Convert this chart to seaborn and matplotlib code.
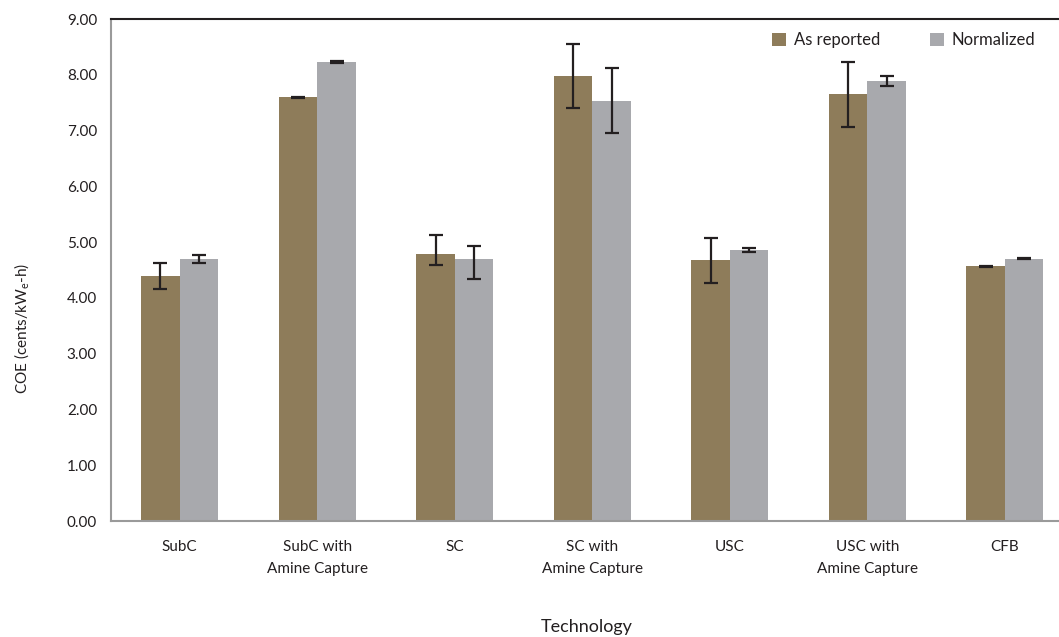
import matplotlib
matplotlib.use("Agg")
import matplotlib.pyplot as plt
import pandas as pd
import seaborn as sns

# Data
technologies = ["SubC", "SubC with\nAmine Capture", "SC", "SC with\nAmine Capture",
                "USC", "USC with\nAmine Capture", "CFB"]
as_reported = [4.39, 7.60, 4.79, 7.98, 4.68, 7.66, 4.57]
as_reported_lo = [4.16, 7.59, 4.59, 7.40, 4.27, 7.06, 4.56]
as_reported_hi = [4.63, 7.61, 5.13, 8.55, 5.07, 8.23, 4.58]
normalized = [4.70, 8.23, 4.70, 7.53, 4.86, 7.89, 4.70]
normalized_lo = [4.62, 8.22, 4.34, 6.95, 4.83, 7.80, 4.69]
normalized_hi = [4.77, 8.24, 4.93, 8.13, 4.89, 7.98, 4.71]
series = ["As reported", "Normalized"]
colors = ["#8e7c5a", "#a8a9ad"]

sns.set_style("white")
plt.rcParams['font.family'] = ['Lato', 'DejaVu Sans']

df = pd.DataFrame({
    "Technology": technologies * 2,
    "COE": as_reported + normalized,
    "Series": [series[0]] * len(technologies) + [series[1]] * len(technologies),
})

fig = plt.figure(figsize=(10.59, 6.37), dpi=100)
ax = fig.add_axes([0.1048, 0.1821, 0.909, 0.788])

sns.barplot(data=df, x="Technology", y="COE", hue="Series", palette=colors,
            width=0.56, errorbar=None, saturation=1, linewidth=0, ax=ax)

# error bars on top of each bar
bounds = [(as_reported, as_reported_lo, as_reported_hi),
          (normalized, normalized_lo, normalized_hi)]
for cont, (vals, lo, hi) in zip(ax.containers, bounds):
    xs = [b.get_x() + b.get_width() / 2 for b in cont]
    yerr = [[v - l for v, l in zip(vals, lo)], [h - v for v, h in zip(vals, hi)]]
    ax.errorbar(xs, vals, yerr=yerr, fmt='none', ecolor='#231f20',
                elinewidth=1.6, capsize=5, capthick=1.6, zorder=5)

ax.set_ylim(0, 9)
ax.set_xlim(-0.5, len(technologies) - 0.5)
ax.set_yticks([i for i in range(10)])
ax.set_yticklabels([f"{i:.2f}" for i in range(10)])
ax.tick_params(axis='y', length=0, pad=10, labelsize=11, colors='#231f20')
ax.tick_params(axis='x', length=0, pad=14, labelsize=11, colors='#231f20')
for lbl in ax.get_xticklabels():
    lbl.set_linespacing(1.65)

ax.set_ylabel(r"COE (cents/kW$_\mathregular{e}$-h)", fontsize=11, color='#231f20')
ax.yaxis.set_label_coords(-0.082, 0.384)
ax.set_xlabel("Technology", fontsize=13, color='#231f20')
ax.xaxis.set_label_coords(0.494, -0.196)

for side in ["left", "bottom"]:
    ax.spines[side].set_color("#9a9a9a")
    ax.spines[side].set_linewidth(1.5)
ax.spines["top"].set_color("#231f20")
ax.spines["top"].set_linewidth(1.5)
ax.spines["right"].set_visible(False)

leg = ax.legend(loc='center', bbox_to_anchor=(0.8536, 0.937), bbox_transform=fig.transFigure,
                ncol=2, frameon=False, fontsize=12, handlelength=0.8, handleheight=0.8,
                handletextpad=0.5, columnspacing=3.0, labelcolor='#231f20')

fig.savefig("out.png", dpi=100)
